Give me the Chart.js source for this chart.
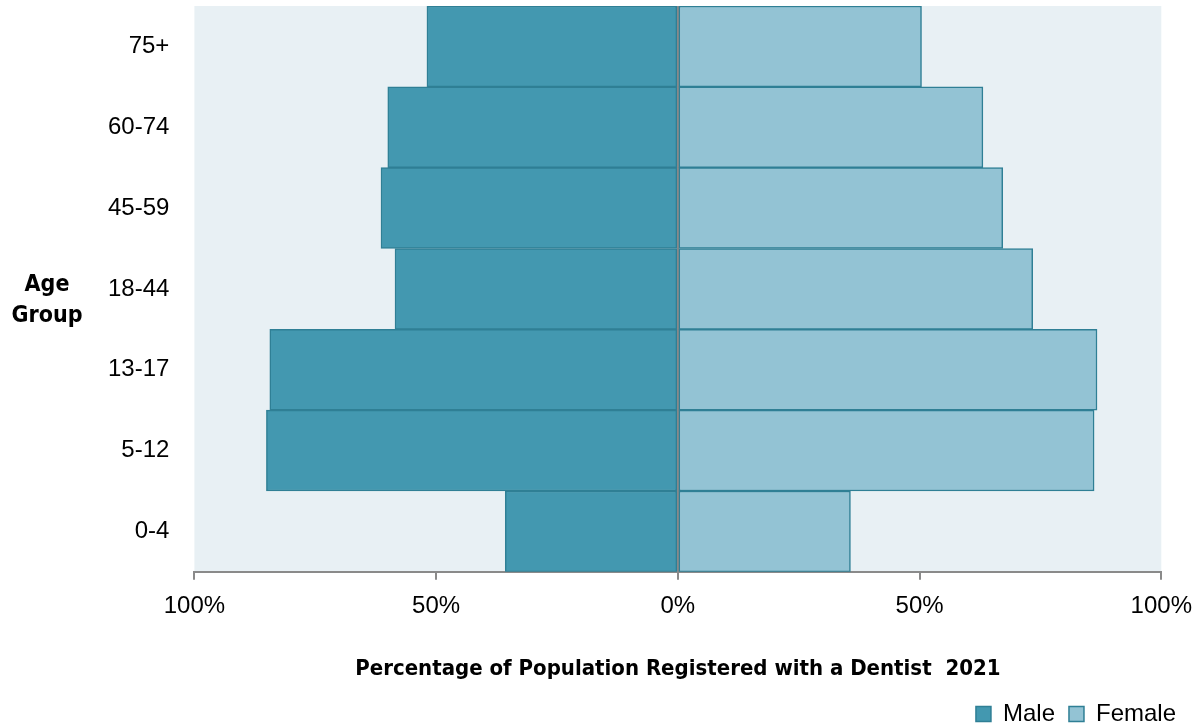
<!DOCTYPE html>
<html>
<head>
<meta charset="utf-8">
<script src="https://cdn.jsdelivr.net/npm/chart.js@4.4.0/dist/chart.umd.min.js"></script>
<style>
   body { margin: 0; background: #fff; }
   #wrap { width: 1204px; height: 724px; position: relative; }
</style>
</head>
<body>
<div id="wrap"><canvas id="pyramid"></canvas></div>
<script>
// age groups, top row first
const ageGroups = ['75+', '60-74', '45-59', '18-44', '13-17', '5-12', '0-4'];
// percentage registered with a dentist, 2021
const maleValues = [51.9, 60.0, 61.4, 58.5, 84.4, 85.1, 35.7];
const femaleValues = [50.4, 63.1, 67.2, 73.4, 86.7, 86.1, 35.7];
const xTicks = [-100, -50, 0, 50, 100];

const tickFont = { family: "'Liberation Sans', Arial, sans-serif", size: 24 };
const titleFamily = "'DejaVu Sans Condensed', 'Liberation Sans Narrow', sans-serif";

// light panel behind the bars + the side label
const panelAndLabel = {
   id: 'panelAndLabel',
   beforeDraw(chart) {
      const { ctx, chartArea: a } = chart;
      ctx.save();
      ctx.fillStyle = '#e8f0f4';
      ctx.fillRect(a.left, a.top, a.right - a.left, a.bottom - a.top);
      ctx.restore();
   },
   afterDraw(chart) {
      const ctx = chart.ctx;
      ctx.save();
      ctx.fillStyle = '#000';
      ctx.font = 'bold 23px ' + titleFamily;
      ctx.textAlign = 'center';
      ctx.textBaseline = 'middle';
      ctx.fillText('Age', 47, 285);
      ctx.fillText('Group', 47, 316);
      ctx.restore();
   }
};

new Chart(document.getElementById('pyramid'), {
   type: 'bar',
   data: {
      labels: ageGroups,
      datasets: [
         {
            label: 'Male',
            data: maleValues.map(v => -v),
            backgroundColor: '#4398b0',
            borderColor: '#2f7f95',
            borderWidth: 1.5,
            borderSkipped: false,
            barPercentage: 1,
            categoryPercentage: 1,
         },
         {
            label: 'Female',
            data: femaleValues,
            backgroundColor: '#93c3d4',
            borderColor: '#2f7f95',
            borderWidth: 1.5,
            borderSkipped: false,
            barPercentage: 1,
            categoryPercentage: 1,
         },
      ],
   },
   options: {
      indexAxis: 'y',
      responsive: true,
      maintainAspectRatio: false,
      animation: false,
      layout: { padding: { left: 108, right: 14, top: 6, bottom: -12 } },
      scales: {
         x: {
            stacked: true,
            min: -100,
            max: 100,
            z: 1,
            afterBuildTicks: axis => { axis.ticks = xTicks.map(v => ({ value: v })); },
            ticks: {
               font: tickFont,
               color: '#000',
               padding: 12,
               maxRotation: 0,
               callback: v => Math.abs(v) + '%',
            },
            grid: {
               drawOnChartArea: true,
               color: c => c.tick && c.tick.value === 0 ? '#8a8a8a' : 'rgba(0,0,0,0)',
               lineWidth: 2,
               tickLength: 8,
               tickColor: '#8a8a8a',
            },
            border: { color: '#8a8a8a', width: 2 },
            title: {
               display: true,
               text: 'Percentage of Population Registered with a Dentist  2021',
               font: { family: titleFamily, size: 22, weight: 'bold' },
               color: '#000',
               padding: { top: 23, bottom: 6 },
            },
         },
         y: {
            stacked: true,
            ticks: { font: { ...tickFont, lineHeight: 0.4 }, color: '#000', padding: 0 },
            grid: {
               display: true,
               drawOnChartArea: false,
               tickLength: 25,
               tickColor: 'rgba(0,0,0,0)',
            },
            border: { display: false },
         },
      },
      plugins: {
         legend: {
            position: 'bottom',
            align: 'end',
            labels: {
               font: tickFont,
               color: '#000',
               boxWidth: 15,
               boxHeight: 15,
               padding: 14,
            },
         },
         tooltip: { enabled: false },
      },
   },
   plugins: [panelAndLabel],
});
</script>
</body>
</html>
